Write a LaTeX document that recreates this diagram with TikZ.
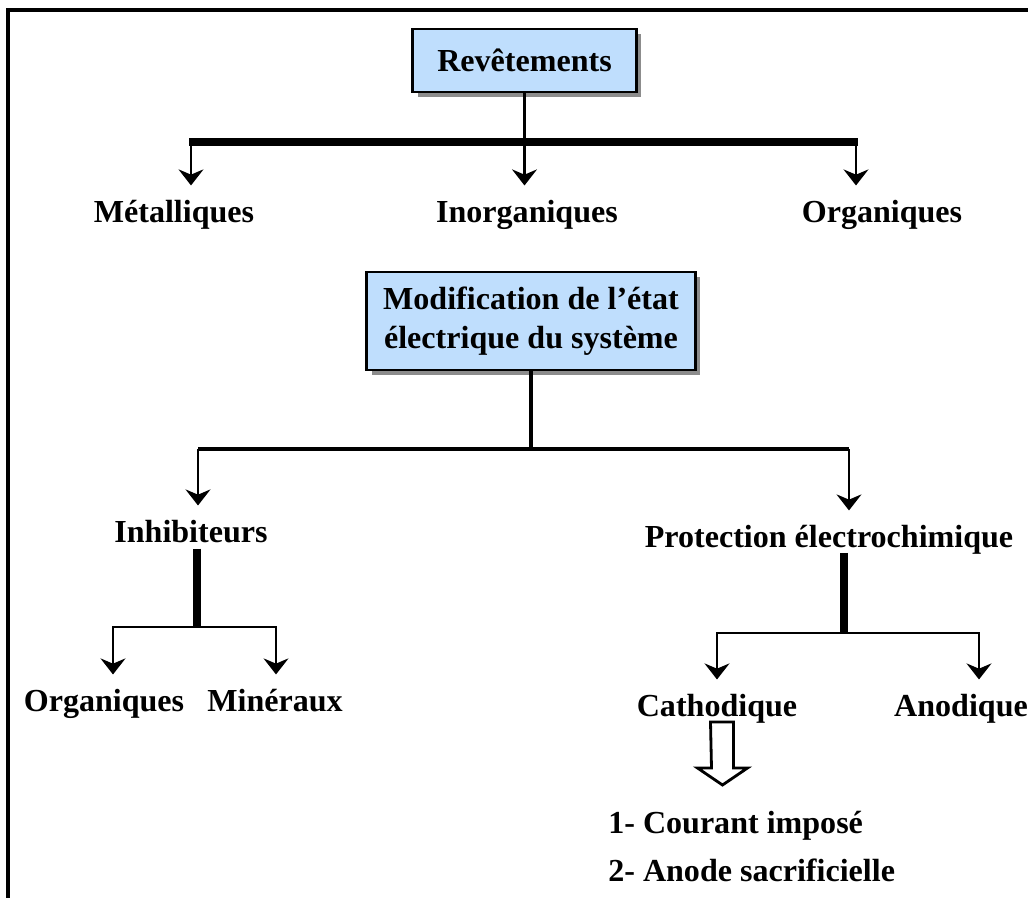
\documentclass[tikz,border=0pt]{standalone}
\usepackage{fontspec}
\setmainfont{Liberation Serif}
\usepackage{tikz}
\usetikzlibrary{arrows.meta, shadows}
\definecolor{boxblue}{RGB}{191, 222, 253}

\begin{document}
\begin{tikzpicture}[x=0.025cm, y=-0.025cm, font=\fontsize{22.8}{27.4}\selectfont\bfseries,
  titlebox/.style={draw, line width=2.1pt, fill=boxblue, align=center,
    drop shadow={shadow xshift=0.12cm, shadow yshift=-0.12cm, fill=black!60, opacity=0.75}},
  lbl/.style={anchor=base, inner sep=0.35cm},
  branch/.style={-{Stealth[length=0.4cm, width=0.62cm, inset=0.13cm]}, line width=2.1pt},
  bus/.style={line width=2.6pt},
  heavybus/.style={line width=5.7pt},
  stem/.style={line width=5pt}]
\useasboundingbox (0,0) rectangle (1028,897);
\clip (0,0) rectangle (1028,897);
% Frame around the whole chart
\draw[line width=2.6pt] (8,10) rectangle (1100,1000);

% Boxes
\node[titlebox, minimum width=5.575cm, minimum height=1.575cm] (rev) at (524.5,60.5) {Revêtements};
\node[titlebox, minimum width=8.2cm, minimum height=2.45cm] (mod) at (531,321) {Modification de l’état\\électrique du système};

% Level labels
\node[lbl] (met) at (174,222) {Métalliques};
\node[lbl] (inorg) at (527,222) {Inorganiques};
\node[lbl] (org) at (882,222) {Organiques};
\node[lbl] (inh) at (191,542) {Inhibiteurs};
\node[lbl] (prot) at (829,547) {Protection électrochimique};
\node[lbl] (orginh) at (104,711) {Organiques};
\node[lbl] (minr) at (275,711) {Minéraux};
\node[lbl] (cath) at (717,716) {Cathodique};
\node[lbl] (anod) at (961,716) {Anodique};
\node[anchor=north west, inner sep=0pt, align=left, font=\fontsize{22.8}{34}\selectfont\bfseries] (meth) at (608,811) {1- Courant imposé\\2- Anode sacrificielle};

% Bus corners
\coordinate (b1l) at (191,142);
\coordinate (b1r) at (856,142);
\coordinate (b2l) at (198,449);
\coordinate (b2r) at (849,449);
\coordinate (s1) at (197,627);
\coordinate (i1) at (113,627);
\coordinate (i2) at (276,627);
\coordinate (s2) at (844,633);
\coordinate (p1) at (717,633);
\coordinate (p2) at (979,633);

% Revetements branches
\draw[heavybus] ([xshift=-0.04cm]b1l) -- ([xshift=0.04cm]b1r);
\draw[branch, line width=1.8pt] (rev.south) -- (rev.south |- inorg.north);
\draw[branch] (b1l) -- (b1l |- met.north);
\draw[branch] (b1r) -- (b1r |- org.north);

% Electrical state branches
\draw[bus] (mod.south) -- (mod.south |- b2l);
\draw[bus] (b2l) -- (b2r);
\draw[branch] (b2l) -- (b2l |- inh.north);
\draw[branch] (b2r) -- (b2r |- prot.north);

% Inhibitors
\draw[stem, shorten <=-0.2cm] (s1 |- inh.south) -- (s1);
\draw[branch] (s1) -| (i1 |- orginh.north);
\draw[branch] (s1) -| (i2 |- minr.north);

% Electrochemical protection
\draw[stem, shorten <=-0.38cm] (s2 |- prot.south) -- (s2);
\draw[branch] (s2) -| (p1 |- cath.north);
\draw[branch] (s2) -| (p2 |- anod.north);

% Hollow arrow to methods
\coordinate (ha) at (722,722);
\draw[line width=2pt, fill=white] (ha) ++(-11.5,0) -- ++(23,0) -- ++(0,46) -- ++(14,0)
  -- ++(-25,17) -- ++(-25,-17) -- ++(14,0) -- cycle;
\end{tikzpicture}
\end{document}
